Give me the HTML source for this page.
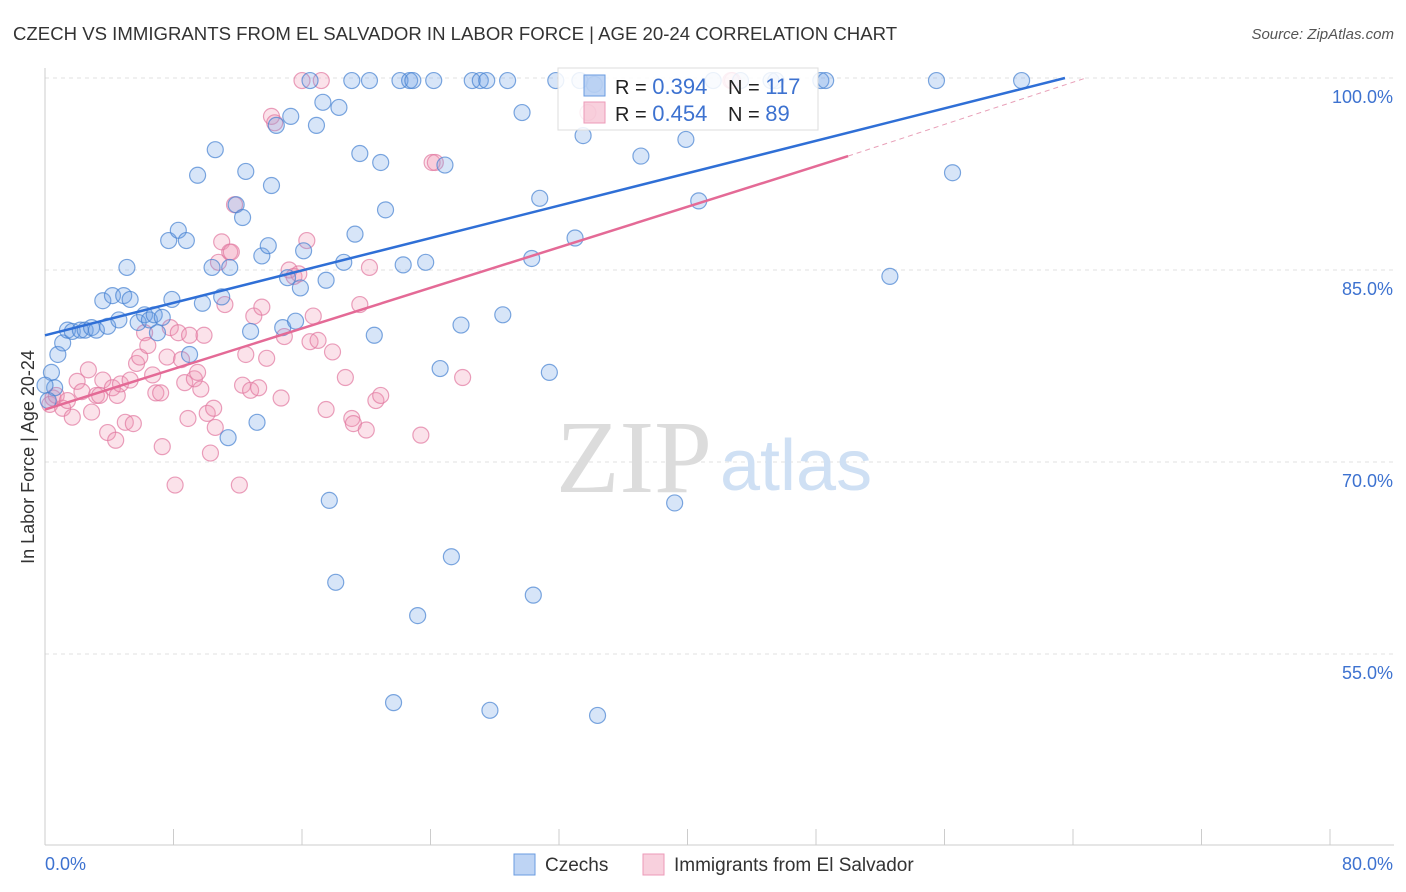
<!DOCTYPE html>
<html><head><meta charset="utf-8"><style>
body{margin:0;background:#fff;font-family:"Liberation Sans",sans-serif;}
#wrap{position:relative;width:1406px;height:892px;overflow:hidden;}
</style></head><body>
<div id="wrap">
<svg id="svg" width="1406" height="892" xmlns="http://www.w3.org/2000/svg"></svg>
</div>
<script>
const blueX=[0.4,0.6,0.8,1.1,1.4,1.7,2.2,2.5,2.9,3.2,3.9,3.6,4.2,4.6,4.9,5.3,5.1,5.8,6.2,6.5,6.8,7.3,7.0,7.9,7.7,8.3,8.8,9.0,9.5,9.8,10.4,10.6,11.0,11.4,11.5,11.9,12.3,12.5,12.8,13.2,13.5,13.9,14.1,14.4,14.8,15.1,15.3,15.6,15.9,16.1,16.5,16.9,17.3,17.5,17.7,18.1,18.3,18.6,19.1,19.3,19.6,20.2,20.5,20.9,21.2,21.7,22.1,22.3,22.7,22.9,23.2,23.7,24.2,24.6,24.9,25.3,25.9,26.6,27.1,27.5,27.7,28.5,28.8,29.7,30.3,30.4,30.8,31.4,31.8,33.0,33.3,33.5,34.4,37.1,39.2,39.9,40.7,41.6,43.3,45.2,45.5,48.3,48.6,52.6,55.5,56.5,60.8,34.2,0.0,0.2];
const blueY=[77.0,75.8,78.4,79.3,80.3,80.2,80.3,80.3,80.5,80.3,80.6,82.6,83.0,81.1,83.0,82.7,85.2,80.9,81.5,81.1,81.5,81.3,80.1,82.7,87.3,88.1,87.3,78.4,92.4,82.4,85.2,94.4,82.9,71.9,85.2,90.1,89.1,92.7,80.2,73.1,86.1,86.9,91.6,96.3,80.5,84.4,97.0,81.0,83.6,86.5,99.8,96.3,98.1,84.2,67.0,60.6,97.7,85.6,99.8,87.8,94.1,99.8,79.9,93.4,89.7,51.2,99.8,85.4,99.8,99.8,58.0,85.6,99.8,77.3,93.2,62.6,80.7,99.8,99.8,99.8,50.6,81.5,99.8,97.3,85.9,59.6,90.6,77.0,99.8,87.5,99.8,95.5,50.2,93.9,66.8,95.2,90.4,99.8,99.8,99.8,99.8,99.8,99.8,84.5,99.8,92.6,99.8,99.5,76.0,74.8];
const pinkX=[0.3,0.5,0.7,1.1,1.4,1.7,2.0,2.3,2.7,2.9,3.2,3.4,3.6,3.9,4.2,4.4,4.5,4.7,5.0,5.3,5.5,5.7,5.9,6.2,6.4,6.7,6.9,7.2,7.3,7.6,7.8,8.1,8.3,8.5,8.7,8.9,9.0,9.3,9.5,9.7,9.9,10.1,10.3,10.5,10.6,10.8,11.0,11.2,11.5,11.8,12.1,12.3,12.5,12.8,13.0,13.3,13.5,13.8,14.1,14.3,14.7,14.9,15.2,15.5,15.8,16.0,16.3,16.5,16.7,17.0,17.2,17.5,17.9,18.7,19.1,19.2,19.6,20.0,20.2,20.6,20.9,23.4,24.1,24.3,26.0,33.8,42.7,42.8,11.6];
const pinkY=[74.5,75.0,75.2,74.2,74.8,73.5,76.3,75.5,77.2,73.9,75.2,75.2,76.4,72.3,75.8,71.7,75.2,76.1,73.1,76.4,73.0,77.7,78.2,80.1,79.1,76.8,75.4,75.4,71.2,78.2,80.5,68.2,80.1,78.0,76.2,73.4,79.9,76.5,77.0,75.7,79.9,73.8,70.7,74.2,72.7,85.6,87.2,82.3,86.4,90.1,68.2,76.0,78.4,75.6,81.4,75.8,82.1,78.1,97.0,96.5,75.0,79.8,85.0,84.5,84.7,99.8,87.3,79.4,81.4,79.5,99.8,74.1,78.6,76.6,73.4,73.0,82.3,72.5,85.2,74.8,75.2,72.1,93.4,93.4,76.6,97.3,99.8,99.8,86.4];
const blueTrendX=[0,63.5], blueTrendY=[79.9,100];
const pinkTrendX=[0,50.0], pinkTrendY=[74.1,93.9];
const pinkDashX=[50.0,64.8], pinkDashY=[93.9,100];
const yTicks=[100,85,70,55];
const yTickLabels=["100.0%","85.0%","70.0%","55.0%"];
const xTicks=[0,8,16,24,32,40,48,56,64,72,80];

const NS="http://www.w3.org/2000/svg";
const svg=document.getElementById('svg');
const X0=45,X1=1330,Y100=78,PX15=192;
const sx=v=>X0+(v/80)*(X1-X0);
const sy=v=>Y100+(100-v)/15*PX15;
function el(tag,attrs,parent){const e=document.createElementNS(NS,tag);for(const k in attrs)e.setAttribute(k,attrs[k]);(parent||svg).appendChild(e);return e;}
function txt(s,attrs){const e=el('text',attrs);e.textContent=s;return e;}

yTicks.forEach((t,i)=>{
  const g=el('line',{x1:45,x2:1394,y1:sy(t),y2:sy(t),stroke:'#e2e2e2','stroke-dasharray':'4,4'});
  
  
  const l=txt(yTickLabels[i],{x:1393,y:sy(t)+25,'text-anchor':'end','font-size':18,fill:'#3d72d0'});
  
  
});
const ya=el('line',{x1:45,x2:45,y1:68,y2:845,stroke:'#ccc'});


const xa=el('line',{x1:45,x2:1394,y1:845,y2:845,stroke:'#ccc'});


xTicks.forEach(t=>{
  const k=el('line',{x1:sx(t),x2:sx(t),y1:829,y2:845,stroke:'#ccc'});
  
  
});
const xl0=txt('0.0%',{x:45,y:870,'font-size':18,fill:'#3d72d0'});


const xl1=txt('80.0%',{x:1393,y:870,'text-anchor':'end','font-size':18,fill:'#3d72d0'});



const wm=txt('ZIP',{x:634,y:492,'text-anchor':'middle','font-size':104,'font-family':'Liberation Serif,serif',fill:'#dcdcdc'});


const wm2=txt('atlas',{x:720,y:490,'font-size':72,fill:'#cfe0f4'});



function pts(xs,ys,fill,stroke,name){
  xs.forEach((x,i)=>{
    const c=el('circle',{cx:sx(x),cy:sy(ys[i]),r:8,fill:fill,stroke:stroke,'stroke-width':1.2});
    
    
  });
}
pts(pinkX,pinkY,'rgba(240,150,180,0.28)','rgba(225,120,160,0.7)','immigrants-point');
pts(blueX,blueY,'rgba(110,160,230,0.28)','rgba(70,130,210,0.7)','czechs-point');

const bl=el('line',{x1:sx(blueTrendX[0]),y1:sy(blueTrendY[0]),x2:sx(blueTrendX[1]),y2:sy(blueTrendY[1]),stroke:'#2f6fd6','stroke-width':2.5});


const pl=el('line',{x1:sx(pinkTrendX[0]),y1:sy(pinkTrendY[0]),x2:sx(pinkTrendX[1]),y2:sy(pinkTrendY[1]),stroke:'#e46a96','stroke-width':2.5});


const pd=el('line',{x1:sx(pinkDashX[0]),y1:sy(pinkDashY[0]),x2:sx(pinkDashX[1]),y2:sy(pinkDashY[1]),stroke:'#e8a0b8','stroke-width':1,'stroke-dasharray':'5,4'});



const lb=el('rect',{x:558,y:68,width:260,height:62,fill:'rgba(255,255,255,0.85)',stroke:'#ddd'});


const s1=el('rect',{x:584,y:75,width:21,height:21,fill:'rgba(110,160,230,0.45)',stroke:'#6a9be0'});


const s2=el('rect',{x:584,y:102,width:21,height:21,fill:'rgba(240,150,180,0.45)',stroke:'#ec9ab8'});


function legLine(y,r,n,name){
  const t=el('text',{x:615,y:y,'font-size':20,fill:'#222'});
  
  
  t.innerHTML='R = <tspan fill="#3d72d0" font-size="22">'+r+'</tspan><tspan x="728">N = </tspan><tspan fill="#3d72d0" font-size="22">'+n+'</tspan>';
}
legLine(94,'0.394','117','legend-stats-czechs');
legLine(121,'0.454',' 89','legend-stats-immigrants');

const tt=txt('CZECH VS IMMIGRANTS FROM EL SALVADOR IN LABOR FORCE | AGE 20-24 CORRELATION CHART',{x:13,y:40,'font-size':18.6,fill:'#333'});


const src=txt('Source: ZipAtlas.com',{x:1394,y:39,'text-anchor':'end','font-size':15,'font-style':'italic',fill:'#555'});


const yt=txt('In Labor Force | Age 20-24',{x:0,y:0,'font-size':18,fill:'#333','text-anchor':'middle',transform:'translate(34,457) rotate(-90)'});



const b1=el('rect',{x:514,y:854,width:21,height:21,fill:'rgba(110,160,230,0.45)',stroke:'#6a9be0'});


const bt1=txt('Czechs',{x:545,y:871,'font-size':19,fill:'#333'});


const b2=el('rect',{x:643,y:854,width:21,height:21,fill:'rgba(240,150,180,0.45)',stroke:'#ec9ab8'});


const bt2=txt('Immigrants from El Salvador',{x:674,y:871,'font-size':19,fill:'#333'});


</script>
</body></html>
